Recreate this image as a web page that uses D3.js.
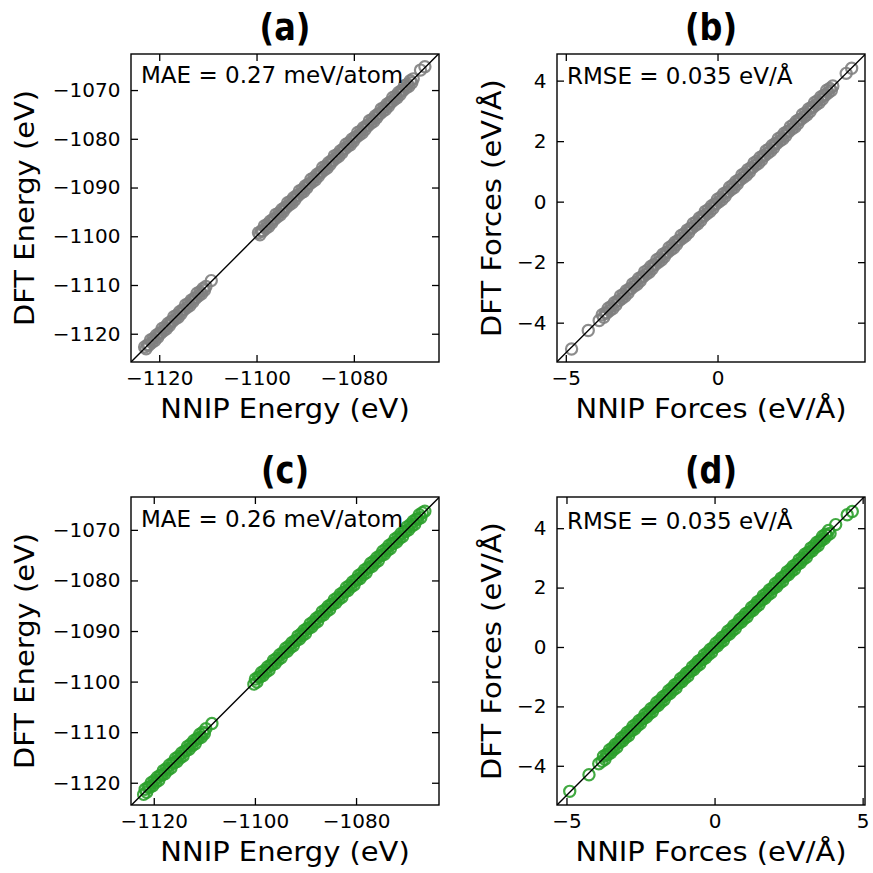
<!DOCTYPE html>
<html>
<head>
<meta charset="utf-8">
<script src="https://cdn.jsdelivr.net/npm/d3@7"></script>
<style>
  body { margin: 0; background: #fff; }
  svg text { font-family: "DejaVu Sans", "Noto Sans", sans-serif; fill: #000; }
</style>
</head>
<body>
<svg id="fig" width="873" height="873"></svg>
<script>
// ---- Panel (a): energies (eV), first model ----
const energyNnipA = [
  -1123.0, -1122.7, -1122.4, -1122.1, -1121.8, -1121.5, -1121.2, -1120.9,
  -1120.6, -1120.3, -1120.0, -1119.7, -1119.4, -1119.1, -1118.8, -1118.5,
  -1118.2, -1117.9, -1117.6, -1117.3, -1117.0, -1116.7, -1116.4, -1116.1,
  -1115.8, -1115.5, -1115.2, -1114.9, -1114.6, -1114.3, -1114.0, -1113.7,
  -1113.4, -1113.1, -1112.8, -1112.5, -1112.2, -1111.9, -1111.6, -1111.3,
  -1111.0, -1110.7, -1110.4, -1109.3,
  -1099.6, -1099.3, -1099.0, -1098.7, -1098.4, -1098.1, -1097.8, -1097.5,
  -1097.2, -1096.9, -1096.6, -1096.3, -1096.0, -1095.7, -1095.4, -1095.1,
  -1094.8, -1094.5, -1094.2, -1093.9, -1093.6, -1093.3, -1093.0, -1092.7,
  -1092.4, -1092.1, -1091.8, -1091.5, -1091.2, -1090.9, -1090.6, -1090.3,
  -1090.0, -1089.7, -1089.4, -1089.1, -1088.8, -1088.5, -1088.2, -1087.9,
  -1087.6, -1087.3, -1087.0, -1086.7, -1086.4, -1086.1, -1085.8, -1085.5,
  -1085.2, -1084.9, -1084.6, -1084.3, -1084.0, -1083.7, -1083.4, -1083.1,
  -1082.8, -1082.5, -1082.2, -1081.9, -1081.6, -1081.3, -1081.0, -1080.7,
  -1080.4, -1080.1, -1079.8, -1079.5, -1079.2, -1078.9, -1078.6, -1078.3,
  -1078.0, -1077.7, -1077.4, -1077.1, -1076.8, -1076.5, -1076.2, -1075.9,
  -1075.6, -1075.3, -1075.0, -1074.7, -1074.4, -1074.1, -1073.8, -1073.5,
  -1073.2, -1072.9, -1072.6, -1072.3, -1072.0, -1071.7, -1071.4, -1071.1,
  -1070.8, -1070.5, -1070.2, -1069.9, -1069.6, -1069.3, -1069.0, -1068.7,
  -1068.4, -1068.1, -1067.8, -1066.3, -1065.4
];
const energyDftA = [
  -1122.7, -1123.1, -1122.3, -1122.3, -1121.3, -1121.8, -1121.0, -1121.4,
  -1120.3, -1120.7, -1119.9, -1119.9, -1118.9, -1119.4, -1118.6, -1119.0,
  -1117.9, -1118.3, -1117.5, -1117.5, -1116.5, -1117.0, -1116.2, -1116.6,
  -1115.5, -1115.9, -1115.1, -1115.1, -1114.1, -1114.6, -1113.8, -1114.2,
  -1113.1, -1113.5, -1112.7, -1112.7, -1111.7, -1112.2, -1111.4, -1111.8,
  -1110.7, -1111.1, -1110.3, -1109.1,
  -1099.3, -1099.7, -1098.9, -1098.9, -1097.9, -1098.4, -1097.6, -1098.0,
  -1096.9, -1097.3, -1096.5, -1096.5, -1095.5, -1096.0, -1095.2, -1095.6,
  -1094.5, -1094.9, -1094.1, -1094.1, -1093.1, -1093.6, -1092.8, -1093.2,
  -1092.1, -1092.5, -1091.7, -1091.7, -1090.7, -1091.2, -1090.4, -1090.8,
  -1089.7, -1090.1, -1089.3, -1089.3, -1088.3, -1088.8, -1088.0, -1088.4,
  -1087.3, -1087.7, -1086.9, -1086.9, -1085.9, -1086.4, -1085.6, -1086.0,
  -1084.9, -1085.3, -1084.5, -1084.5, -1083.5, -1084.0, -1083.2, -1083.6,
  -1082.5, -1082.9, -1082.1, -1082.1, -1081.1, -1081.6, -1080.8, -1081.2,
  -1080.1, -1080.5, -1079.7, -1079.7, -1078.7, -1079.2, -1078.4, -1078.8,
  -1077.7, -1078.1, -1077.3, -1077.3, -1076.3, -1076.8, -1076.0, -1076.4,
  -1075.3, -1075.7, -1074.9, -1074.9, -1073.9, -1074.4, -1073.6, -1074.0,
  -1072.9, -1073.3, -1072.5, -1072.5, -1071.5, -1072.0, -1071.2, -1071.6,
  -1070.5, -1070.9, -1070.1, -1070.1, -1069.1, -1069.6, -1068.8, -1069.2,
  -1068.1, -1068.5, -1067.7, -1065.9, -1065.2
];

// ---- Panel (b): force components (eV/Å), first model ----
const forceNnipB = [
  -4.81, -4.26, -3.90,
  -3.80, -3.75, -3.70, -3.65, -3.60, -3.55, -3.50, -3.45,
  -3.40, -3.35, -3.30, -3.25, -3.20, -3.15, -3.10, -3.05,
  -3.00, -2.95, -2.90, -2.85, -2.80, -2.75, -2.70, -2.65,
  -2.60, -2.55, -2.50, -2.45, -2.40, -2.35, -2.30, -2.25,
  -2.20, -2.15, -2.10, -2.05, -2.00, -1.95, -1.90, -1.85,
  -1.80, -1.75, -1.70, -1.65, -1.60, -1.55, -1.50, -1.45,
  -1.40, -1.35, -1.30, -1.25, -1.20, -1.15, -1.10, -1.05,
  -1.00, -0.95, -0.90, -0.85, -0.80, -0.75, -0.70, -0.65,
  -0.60, -0.55, -0.50, -0.45, -0.40, -0.35, -0.30, -0.25,
  -0.20, -0.15, -0.10, -0.05, 0.00, 0.05, 0.10, 0.15,
  0.20, 0.25, 0.30, 0.35, 0.40, 0.45, 0.50, 0.55,
  0.60, 0.65, 0.70, 0.75, 0.80, 0.85, 0.90, 0.95,
  1.00, 1.05, 1.10, 1.15, 1.20, 1.25, 1.30, 1.35,
  1.40, 1.45, 1.50, 1.55, 1.60, 1.65, 1.70, 1.75,
  1.80, 1.85, 1.90, 1.95, 2.00, 2.05, 2.10, 2.15,
  2.20, 2.25, 2.30, 2.35, 2.40, 2.45, 2.50, 2.55,
  2.60, 2.65, 2.70, 2.75, 2.80, 2.85, 2.90, 2.95,
  3.00, 3.05, 3.10, 3.15, 3.20, 3.25, 3.30, 3.35,
  3.40, 3.45, 3.50, 3.55, 3.60, 3.65, 3.70, 3.75,
  3.80, 4.24, 4.42
];
const forceDftB = [
  -4.87, -4.26, -3.93,
  -3.74, -3.82, -3.68, -3.68, -3.52, -3.60, -3.46, -3.53,
  -3.34, -3.42, -3.28, -3.28, -3.12, -3.20, -3.06, -3.13,
  -2.94, -3.02, -2.88, -2.88, -2.72, -2.80, -2.66, -2.73,
  -2.54, -2.62, -2.48, -2.48, -2.32, -2.40, -2.26, -2.33,
  -2.14, -2.22, -2.08, -2.08, -1.92, -2.00, -1.86, -1.93,
  -1.74, -1.82, -1.68, -1.68, -1.52, -1.60, -1.46, -1.53,
  -1.34, -1.42, -1.28, -1.28, -1.12, -1.20, -1.06, -1.13,
  -0.94, -1.02, -0.88, -0.88, -0.72, -0.80, -0.66, -0.73,
  -0.54, -0.62, -0.48, -0.48, -0.32, -0.40, -0.26, -0.33,
  -0.14, -0.22, -0.08, -0.08, 0.08, 0.00, 0.14, 0.07,
  0.26, 0.18, 0.32, 0.32, 0.48, 0.40, 0.54, 0.47,
  0.66, 0.58, 0.72, 0.72, 0.88, 0.80, 0.94, 0.87,
  1.06, 0.98, 1.12, 1.12, 1.28, 1.20, 1.34, 1.27,
  1.46, 1.38, 1.52, 1.52, 1.68, 1.60, 1.74, 1.67,
  1.86, 1.78, 1.92, 1.92, 2.08, 2.00, 2.14, 2.07,
  2.26, 2.18, 2.32, 2.32, 2.48, 2.40, 2.54, 2.47,
  2.66, 2.58, 2.72, 2.72, 2.88, 2.80, 2.94, 2.87,
  3.06, 2.98, 3.12, 3.12, 3.28, 3.20, 3.34, 3.27,
  3.46, 3.38, 3.52, 3.52, 3.68, 3.60, 3.74, 3.67,
  3.82, 4.24, 4.41
];

// ---- Panel (c): energies (eV), second model ----
const energyNnipC = [
  -1122.0, -1121.7, -1121.4, -1121.1, -1120.8, -1120.5, -1120.2, -1119.9,
  -1119.6, -1119.3, -1119.0, -1118.7, -1118.4, -1118.1, -1117.8, -1117.5,
  -1117.2, -1116.9, -1116.6, -1116.3, -1116.0, -1115.7, -1115.4, -1115.1,
  -1114.8, -1114.5, -1114.2, -1113.9, -1113.6, -1113.3, -1113.0, -1112.7,
  -1112.4, -1112.1, -1111.8, -1111.5, -1111.2, -1110.9, -1110.6, -1110.3,
  -1110.0, -1109.7, -1108.5,
  -1100.2, -1099.9, -1099.6, -1099.3, -1099.0, -1098.7, -1098.4, -1098.1,
  -1097.8, -1097.5, -1097.2, -1096.9, -1096.6, -1096.3, -1096.0, -1095.7,
  -1095.4, -1095.1, -1094.8, -1094.5, -1094.2, -1093.9, -1093.6, -1093.3,
  -1093.0, -1092.7, -1092.4, -1092.1, -1091.8, -1091.5, -1091.2, -1090.9,
  -1090.6, -1090.3, -1090.0, -1089.7, -1089.4, -1089.1, -1088.8, -1088.5,
  -1088.2, -1087.9, -1087.6, -1087.3, -1087.0, -1086.7, -1086.4, -1086.1,
  -1085.8, -1085.5, -1085.2, -1084.9, -1084.6, -1084.3, -1084.0, -1083.7,
  -1083.4, -1083.1, -1082.8, -1082.5, -1082.2, -1081.9, -1081.6, -1081.3,
  -1081.0, -1080.7, -1080.4, -1080.1, -1079.8, -1079.5, -1079.2, -1078.9,
  -1078.6, -1078.3, -1078.0, -1077.7, -1077.4, -1077.1, -1076.8, -1076.5,
  -1076.2, -1075.9, -1075.6, -1075.3, -1075.0, -1074.7, -1074.4, -1074.1,
  -1073.8, -1073.5, -1073.2, -1072.9, -1072.6, -1072.3, -1072.0, -1071.7,
  -1071.4, -1071.1, -1070.8, -1070.5, -1070.2, -1069.9, -1069.6, -1069.3,
  -1069.0, -1068.7, -1068.4, -1068.1, -1067.8, -1067.5, -1067.2, -1066.9,
  -1066.4
];
const energyDftC = [
  -1122.3, -1121.3, -1121.9, -1120.9, -1120.9, -1120.0, -1120.6, -1119.6,
  -1119.9, -1118.9, -1119.5, -1118.5, -1118.5, -1117.6, -1118.2, -1117.2,
  -1117.5, -1116.5, -1117.1, -1116.1, -1116.1, -1115.2, -1115.8, -1114.8,
  -1115.1, -1114.1, -1114.7, -1113.7, -1113.7, -1112.8, -1113.4, -1112.4,
  -1112.7, -1111.7, -1112.3, -1111.3, -1111.3, -1110.4, -1111.0, -1110.0,
  -1110.3, -1109.3, -1108.3,
  -1100.5, -1099.5, -1100.1, -1099.1, -1099.1, -1098.2, -1098.8, -1097.8,
  -1098.1, -1097.1, -1097.7, -1096.7, -1096.7, -1095.8, -1096.4, -1095.4,
  -1095.7, -1094.7, -1095.3, -1094.3, -1094.3, -1093.4, -1094.0, -1093.0,
  -1093.3, -1092.3, -1092.9, -1091.9, -1091.9, -1091.0, -1091.6, -1090.6,
  -1090.9, -1089.9, -1090.5, -1089.5, -1089.5, -1088.6, -1089.2, -1088.2,
  -1088.5, -1087.5, -1088.1, -1087.1, -1087.1, -1086.2, -1086.8, -1085.8,
  -1086.1, -1085.1, -1085.7, -1084.7, -1084.7, -1083.8, -1084.4, -1083.4,
  -1083.7, -1082.7, -1083.3, -1082.3, -1082.3, -1081.4, -1082.0, -1081.0,
  -1081.3, -1080.3, -1080.9, -1079.9, -1079.9, -1079.0, -1079.6, -1078.6,
  -1078.9, -1077.9, -1078.5, -1077.5, -1077.5, -1076.6, -1077.2, -1076.2,
  -1076.5, -1075.5, -1076.1, -1075.1, -1075.1, -1074.2, -1074.8, -1073.8,
  -1074.1, -1073.1, -1073.7, -1072.7, -1072.7, -1071.8, -1072.4, -1071.4,
  -1071.7, -1070.7, -1071.3, -1070.3, -1070.3, -1069.4, -1070.0, -1069.0,
  -1069.3, -1068.3, -1068.9, -1067.9, -1067.9, -1067.0, -1067.6, -1066.6,
  -1066.3
];

// ---- Panel (d): force components (eV/Å), second model ----
const forceNnipD = [
  -4.89, -4.24, -3.91,
  -3.80, -3.75, -3.70, -3.65, -3.60, -3.55, -3.50, -3.45,
  -3.40, -3.35, -3.30, -3.25, -3.20, -3.15, -3.10, -3.05,
  -3.00, -2.95, -2.90, -2.85, -2.80, -2.75, -2.70, -2.65,
  -2.60, -2.55, -2.50, -2.45, -2.40, -2.35, -2.30, -2.25,
  -2.20, -2.15, -2.10, -2.05, -2.00, -1.95, -1.90, -1.85,
  -1.80, -1.75, -1.70, -1.65, -1.60, -1.55, -1.50, -1.45,
  -1.40, -1.35, -1.30, -1.25, -1.20, -1.15, -1.10, -1.05,
  -1.00, -0.95, -0.90, -0.85, -0.80, -0.75, -0.70, -0.65,
  -0.60, -0.55, -0.50, -0.45, -0.40, -0.35, -0.30, -0.25,
  -0.20, -0.15, -0.10, -0.05, 0.00, 0.05, 0.10, 0.15,
  0.20, 0.25, 0.30, 0.35, 0.40, 0.45, 0.50, 0.55,
  0.60, 0.65, 0.70, 0.75, 0.80, 0.85, 0.90, 0.95,
  1.00, 1.05, 1.10, 1.15, 1.20, 1.25, 1.30, 1.35,
  1.40, 1.45, 1.50, 1.55, 1.60, 1.65, 1.70, 1.75,
  1.80, 1.85, 1.90, 1.95, 2.00, 2.05, 2.10, 2.15,
  2.20, 2.25, 2.30, 2.35, 2.40, 2.45, 2.50, 2.55,
  2.60, 2.65, 2.70, 2.75, 2.80, 2.85, 2.90, 2.95,
  3.00, 3.05, 3.10, 3.15, 3.20, 3.25, 3.30, 3.35,
  3.40, 3.45, 3.50, 3.55, 3.60, 3.65, 3.70, 3.75,
  3.80, 3.85, 3.90, 4.09, 4.48, 4.65
];
const forceDftD = [
  -4.86, -4.30, -3.93,
  -3.85, -3.68, -3.78, -3.62, -3.62, -3.47, -3.56, -3.40,
  -3.45, -3.28, -3.38, -3.22, -3.22, -3.07, -3.16, -3.00,
  -3.05, -2.88, -2.98, -2.82, -2.82, -2.67, -2.76, -2.60,
  -2.65, -2.48, -2.58, -2.42, -2.42, -2.27, -2.36, -2.20,
  -2.25, -2.08, -2.18, -2.02, -2.02, -1.87, -1.96, -1.80,
  -1.85, -1.68, -1.78, -1.62, -1.62, -1.47, -1.56, -1.40,
  -1.45, -1.28, -1.38, -1.22, -1.22, -1.07, -1.16, -1.00,
  -1.05, -0.88, -0.98, -0.82, -0.82, -0.67, -0.76, -0.60,
  -0.65, -0.48, -0.58, -0.42, -0.42, -0.27, -0.36, -0.20,
  -0.25, -0.08, -0.18, -0.02, -0.02, 0.13, 0.04, 0.20,
  0.15, 0.32, 0.22, 0.38, 0.38, 0.53, 0.44, 0.60,
  0.55, 0.72, 0.62, 0.78, 0.78, 0.93, 0.84, 1.00,
  0.95, 1.12, 1.02, 1.18, 1.18, 1.33, 1.24, 1.40,
  1.35, 1.52, 1.42, 1.58, 1.58, 1.73, 1.64, 1.80,
  1.75, 1.92, 1.82, 1.98, 1.98, 2.13, 2.04, 2.20,
  2.15, 2.32, 2.22, 2.38, 2.38, 2.53, 2.44, 2.60,
  2.55, 2.72, 2.62, 2.78, 2.78, 2.93, 2.84, 3.00,
  2.95, 3.12, 3.02, 3.18, 3.18, 3.33, 3.24, 3.40,
  3.35, 3.52, 3.42, 3.58, 3.58, 3.73, 3.64, 3.80,
  3.75, 3.92, 3.82, 4.12, 4.45, 4.56
];

// ---- Axis ticks and text ----
const energyTicksX = [-1120, -1100, -1080];
const energyTicksY = [-1120, -1110, -1100, -1090, -1080, -1070];
const forceTicksXB = [-5, 0];
const forceTicksXD = [-5, 0, 5];
const forceTicksY = [-4, -2, 0, 2, 4];
const panelTitles = ["(a)", "(b)", "(c)", "(d)"];
const panelNotes = ["MAE = 0.27 meV/atom", "RMSE = 0.035 eV/Å", "MAE = 0.26 meV/atom", "RMSE = 0.035 eV/Å"];
const energyXLabel = "NNIP Energy (eV)";
const energyYLabel = "DFT Energy (eV)";
const forceXLabel = "NNIP Forces (eV/Å)";
const forceYLabel = "DFT Forces (eV/Å)";

// ---- Layout ----
const W = 308, H = 308;
const panels = [
  { left: 131, top: 54, nnip: energyNnipA, dft: energyDftA, xDom: [-1125.8, -1062.5], yDom: [-1125.8, -1062.6],
    xt: energyTicksX, yt: energyTicksY, xl: energyXLabel, yl: energyYLabel, color: "#7f7f7f", noteDy: 29, ylx: -97 },
  { left: 557, top: 54, nnip: forceNnipB, dft: forceDftB, xDom: [-5.29, 4.86], yDom: [-5.30, 4.88],
    xt: forceTicksXB, yt: forceTicksY, xl: forceXLabel, yl: forceYLabel, color: "#7f7f7f", noteDy: 30, ylx: -56 },
  { left: 131, top: 497, nnip: energyNnipC, dft: energyDftC, xDom: [-1124.5, -1063.6], yDom: [-1124.4, -1063.5],
    xt: energyTicksX, yt: energyTicksY, xl: energyXLabel, yl: energyYLabel, color: "#2ca02c", noteDy: 30, ylx: -97 },
  { left: 557, top: 497, nnip: forceNnipD, dft: forceDftD, xDom: [-5.32, 5.08], yDom: [-5.32, 5.05],
    xt: forceTicksXD, yt: forceTicksY, xl: forceXLabel, yl: forceYLabel, color: "#2ca02c", noteDy: 32, ylx: -56 }
];

const svg = d3.select("#fig");
const fmt = d3.format("d");

panels.forEach((p, k) => {
  const g = svg.append("g").attr("transform", `translate(${p.left},${p.top})`);
  const x = d3.scaleLinear().domain(p.xDom).range([0, W]);
  const y = d3.scaleLinear().domain(p.yDom).range([H, 0]);

  const clipId = "plotclip" + k;
  g.append("clipPath").attr("id", clipId)
    .append("rect").attr("width", W).attr("height", H);
  const plot = g.append("g").attr("clip-path", `url(#${clipId})`);

  // open-circle markers: NNIP prediction vs DFT reference
  plot.selectAll("circle")
    .data(d3.zip(p.nnip, p.dft))
    .join("circle")
    .attr("cx", d => x(d[0]))
    .attr("cy", d => y(d[1]))
    .attr("r", 5.6)
    .attr("fill", "none")
    .attr("stroke", p.color)
    .attr("stroke-opacity", 0.9)
    .attr("stroke-width", 2.2);

  // parity line y = x
  const lo = Math.min(p.xDom[0], p.yDom[0]), hi = Math.max(p.xDom[1], p.yDom[1]);
  plot.append("line")
    .attr("x1", x(lo)).attr("y1", y(lo))
    .attr("x2", x(hi)).attr("y2", y(hi))
    .attr("stroke", "#000").attr("stroke-width", 1.4);

  // axes with inward ticks on all four sides
  const styleAxis = sel => {
    sel.select(".domain").remove();
    sel.selectAll(".tick line").attr("stroke", "#000").attr("stroke-width", 1.3);
    sel.selectAll(".tick text")
      .attr("font-family", "DejaVu Sans, sans-serif")
      .attr("font-size", 20).attr("fill", "#000");
  };
  g.append("g").attr("transform", `translate(0,${H})`)
    .call(d3.axisBottom(x).tickValues(p.xt).tickSize(-7).tickPadding(9).tickFormat(fmt))
    .call(styleAxis);
  g.append("g")
    .call(d3.axisLeft(y).tickValues(p.yt).tickSize(-7).tickPadding(10.5).tickFormat(fmt))
    .call(styleAxis);
  g.append("g")
    .call(d3.axisTop(x).tickValues(p.xt).tickSize(-7).tickFormat(""))
    .call(styleAxis);
  g.append("g").attr("transform", `translate(${W},0)`)
    .call(d3.axisRight(y).tickValues(p.yt).tickSize(-7).tickFormat(""))
    .call(styleAxis);

  // frame
  g.append("rect").attr("width", W).attr("height", H)
    .attr("fill", "none").attr("stroke", "#000").attr("stroke-width", 1.4);

  // metric annotation
  g.append("text")
    .attr("x", 10).attr("y", p.noteDy)
    .attr("font-size", 23)
    .text(panelNotes[k]);

  // panel title
  g.append("text")
    .attr("transform", `translate(${W / 2},-14) scale(1,1.15)`)
    .attr("text-anchor", "middle")
    .attr("font-family", "Liberation Sans, Arial, sans-serif")
    .attr("font-weight", "bold")
    .attr("font-size", 32)
    .text(panelTitles[k]);

  // axis labels
  g.append("text")
    .attr("transform", `translate(${W / 2},${H + 55.5}) scale(1.115,1)`)
    .attr("text-anchor", "middle")
    .attr("font-size", 26)
    .text(p.xl);
  g.append("text")
    .attr("transform", `translate(${p.ylx},${H / 2}) rotate(-90) scale(1.115,1)`)
    .attr("text-anchor", "middle")
    .attr("font-size", 26)
    .text(p.yl);
});
</script>
</body>
</html>
